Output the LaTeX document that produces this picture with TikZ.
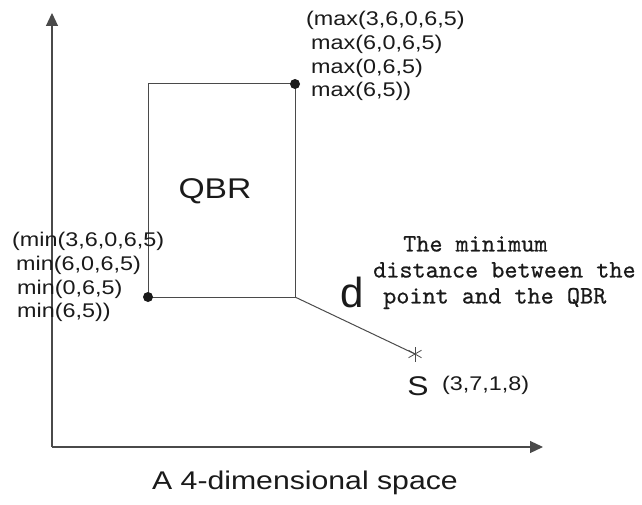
\documentclass[tikz,border=0pt]{standalone}
\usepackage{fontspec}
\setmainfont{Liberation Sans}[FakeStretch=1.18]
\newfontfamily\plainsans{Liberation Sans}
\newfontfamily\monofont{lmmono10-regular.otf}[FakeBold=0.6]
\usetikzlibrary{arrows.meta,positioning,calc}
\definecolor{ink}{HTML}{1A1A1A}
\definecolor{wire}{HTML}{4A4A4A}
\tikzset{
  axis/.style={-{Triangle[length=13pt,width=12pt]}, line width=1.2pt, draw=wire},
  edge/.style={line width=1pt, draw=wire},
  corner/.style={circle, fill=ink, inner sep=0pt, minimum size=10pt},
  coords/.style={font=\fontsize{19.8}{23.8}\selectfont, text=ink, align=left, inner sep=0pt},
  big/.style={font=\fontsize{#1}{#1}\selectfont, text=ink, inner sep=0pt},
  note/.style={font=\monofont\fontsize{25}{26}\selectfont, text=ink, align=left, inner sep=0pt},
}
\begin{document}
\begin{tikzpicture}[x=1pt, y=-1pt]
  \useasboundingbox (0,0) rectangle (642,505);
  % axes
  \coordinate (origin) at (52,447);
  \coordinate (ytop) at (52,13);
  \coordinate (xend) at (543,447);
  \draw[axis] (origin) -- (ytop);
  \draw[axis] (origin) -- (xend);
  % the QBR box
  \coordinate (lo) at (148,297);
  \coordinate (hi) at (295,84);
  \coordinate (lohi) at (295,297);
  \draw[edge] (lo) rectangle (hi);
  \node[corner] (dotlo) at (lo) {};
  \node[corner] (dothi) at (hi) {};
  \node[big=28.5] (qbr) at (215,191) {QBR};
  % corner labels
  \node[coords, anchor=north west] (maxlab) at (306,11)
    {(max(3,6,0,6,5)\\\hspace*{5pt}max(6,0,6,5)\\\hspace*{5pt}max(0,6,5)\\\hspace*{5pt}max(6,5))};
  \node[coords, anchor=north west] (minlab) at (12,232)
    {(min(3,6,0,6,5)\\\hspace*{4pt}min(6,0,6,5)\\\hspace*{5pt}min(0,6,5)\\\hspace*{5pt}min(6,5))};
  % query point and distance
  \coordinate (s) at (415,354);
  \draw[edge] (lohi) -- (s);
  \foreach \a in {90,30,150} \draw[line width=0.8pt, draw=wire] (s) ++(\a:7.5) -- ++(\a+180:15);
  \node[big=27] (slab) at (418,386) {S};
  \node[coords, anchor=west] (scoord) at (442,385) {(3,7,1,8)};
  \node[big=42, font=\plainsans\fontsize{42}{42}\selectfont] (d) at (352,292) {d};
  \node[note, anchor=north west] (dist) at (373,236)
    {\hspace*{30pt}The minimum\\distance between the\\\hspace*{10pt}point and the QBR};
  \node[big=25.6] (cap) at (305,483) {A 4-dimensional space};
\end{tikzpicture}
\end{document}
